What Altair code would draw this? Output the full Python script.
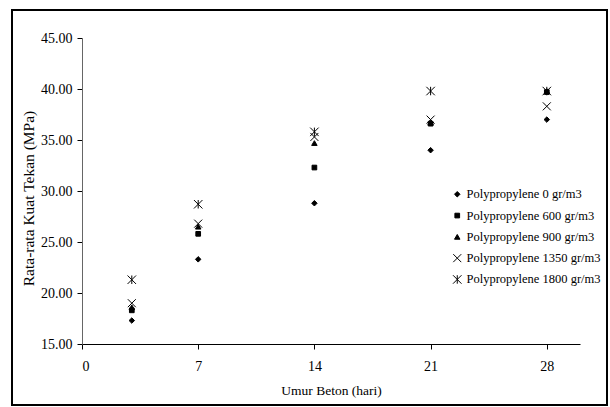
import altair as alt
import pandas as pd

days = [3, 7, 14, 21, 28]
series = ["Polypropylene 0 gr/m3", "Polypropylene 600 gr/m3", "Polypropylene 900 gr/m3",
          "Polypropylene 1350 gr/m3", "Polypropylene 1800 gr/m3"]
pp0 = [17.3, 23.3, 28.8, 34.0, 37.0]
pp600 = [18.3, 25.8, 32.3, 36.6, 39.7]
pp900 = [18.6, 26.5, 34.7, 36.7, 39.8]
pp1350 = [19.0, 26.8, 35.3, 37.0, 38.3]
pp1800 = [21.3, 28.7, 35.8, 39.8, 39.8]
x_ticks = [0, 7, 14, 21, 28]
y_ticks = [15, 20, 25, 30, 35, 40, 45]

rows = []
for name, vals in zip(series, [pp0, pp600, pp900, pp1350, pp1800]):
    for d, v in zip(days, vals):
        rows.append({"day": d, "value": v, "series": name})
df = pd.DataFrame(rows)

FONT = "Liberation Serif"
x_path = "M-1,-1L1,1M-1,1L1,-1"
ast_path = "M-1,-1L1,1M-1,1L1,-1M0,-1L0,1"

legend = alt.Legend(title=None, orient="none", legendX=369, legendY=150,
                    labelFont=FONT, labelFontSize=12.5, labelColor="black",
                    rowPadding=8.3, symbolStrokeWidth=1, labelOffset=3)

points = alt.Chart(df).mark_point(strokeWidth=1, opacity=1).encode(
    x=alt.X("day:Q", scale=alt.Scale(domain=[0, 30], nice=False),
            axis=alt.Axis(values=x_ticks, title="Umur Beton (hari)", grid=False,
                          domainColor="black", tickColor="black", tickSize=5,
                          labelFont=FONT, labelFontSize=14, labelColor="black",
                          labelPadding=10, titleFont=FONT, titleFontSize=13.5,
                          titleFontWeight="normal", titleColor="black", titlePadding=10)),
    y=alt.Y("value:Q", scale=alt.Scale(domain=[15, 45], nice=False, zero=False),
            axis=alt.Axis(values=y_ticks, format=".2f", title="Rata-rata Kuat Tekan (MPa)",
                          grid=False, domainColor="#666", tickColor="black", tickSize=5,
                          labelFont=FONT, labelFontSize=14, labelColor="black",
                          labelPadding=5, titleFont=FONT, titleFontSize=15.5,
                          titleFontWeight="normal", titleColor="black",
                          titleX=-54, titleY=160, titleAngle=270,
                          titleAlign="center", titleBaseline="middle")),
    shape=alt.Shape("series:N", sort=series,
                    scale=alt.Scale(domain=series,
                                    range=["diamond", "square", "triangle-up", x_path, ast_path]),
                    legend=legend),
    fill=alt.Fill("series:N", sort=series,
                  scale=alt.Scale(domain=series,
                                  range=["black", "black", "black", "transparent", "transparent"]),
                  legend=legend),
    stroke=alt.Stroke("series:N", sort=series,
                      scale=alt.Scale(domain=series,
                                      range=["black", "black", "black", "black", "black"]),
                      legend=legend),
    size=alt.Size("series:O", sort=series,
                  scale=alt.Scale(type="ordinal", domain=series, range=[30, 22, 30, 64, 72]),
                  legend=legend),
)

border = alt.Chart(pd.DataFrame({"k": [0]})).mark_rect(
    fill="transparent", stroke="black", strokeWidth=2
).encode(x=alt.value(-70), x2=alt.value(525), y=alt.value(-28), y2=alt.value(367))

chart = alt.layer(points, border).properties(
    width=498, height=306,
    padding={"left": 82, "top": 38, "right": 30, "bottom": 63},
    autosize=alt.AutoSizeParams(type="none"),
    background="white",
).configure_view(stroke=None)

chart.save("out.html", embed_options={"renderer": "svg", "actions": False})
